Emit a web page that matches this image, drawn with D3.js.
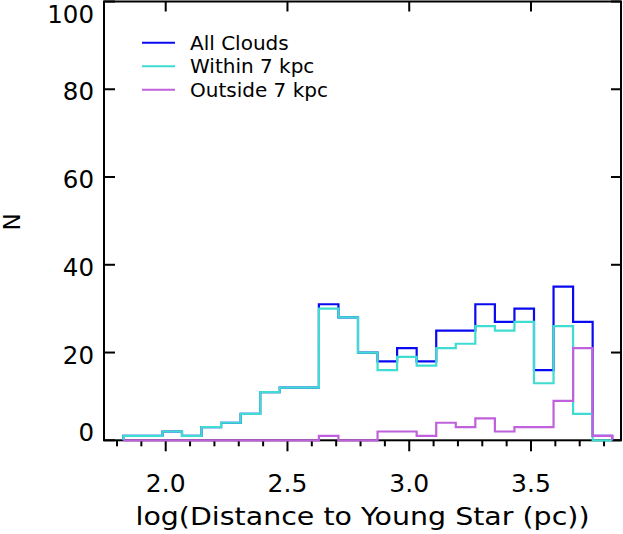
<!DOCTYPE html>
<html>
<head>
<meta charset="utf-8">
<script src="https://cdn.jsdelivr.net/npm/d3@7"></script>
<style>
  html, body { margin: 0; padding: 0; background: #fff; }
  svg { display: block; font-family: "DejaVu Sans", sans-serif; }
</style>
</head>
<body>
<svg id="chart" width="623" height="534"></svg>
<script>
// histogram bins in log(distance / pc)
const binStart = 1.826;
const binWidth = 0.0803;
const allClouds = [1, 1, 2, 1, 3, 4, 6, 11, 12, 12, 31, 28, 20, 18, 21, 18, 25, 25, 31, 27, 30, 16, 35, 27, 1];
const within7 = [1, 1, 2, 1, 3, 4, 6, 11, 12, 12, 30, 28, 20, 16, 19, 17, 21, 22, 26, 25, 27, 13, 26, 6, 0];
const outside7 = [0, 0, 0, 0, 0, 0, 0, 0, 0, 0, 1, 0, 0, 2, 2, 1, 4, 3, 5, 2, 3, 3, 9, 21, 1];

const xMajor = [2.0, 2.5, 3.0, 3.5];
const xMinor = [1.8, 1.9, 2.1, 2.2, 2.3, 2.4, 2.6, 2.7, 2.8, 2.9, 3.1, 3.2, 3.3, 3.4, 3.6, 3.7, 3.8];
const yTicks = [0, 20, 40, 60, 80, 100];

const series = [
  { name: "All Clouds", values: allClouds, color: "#0a0af0" },
  { name: "Within 7 kpc", values: within7, color: "#3fdcd2" },
  { name: "Outside 7 kpc", values: outside7, color: "#c060dc" }
];

const margin = { left: 104, right: 2, top: 1.5, bottom: 94 };
const width = 623, height = 534;
const svg = d3.select("#chart");

const x = d3.scaleLinear().domain([1.7466, 3.8696]).range([margin.left, width - margin.right]);
const y = d3.scaleLinear().domain([0, 100]).range([height - margin.bottom + 0.3, margin.top]);

const x0 = x.range()[0], x1 = x.range()[1];
const yb = y(0), yt = y(100);

// frame
svg.append("rect")
  .attr("x", x0).attr("y", yt).attr("width", x1 - x0).attr("height", yb - yt)
  .attr("fill", "none").attr("stroke", "#000").attr("stroke-width", 2);

// bottom ticks (outward)
svg.append("g").selectAll("line").data(xMajor).join("line")
  .attr("x1", d => x(d)).attr("x2", d => x(d)).attr("y1", yb).attr("y2", yb + 11)
  .attr("stroke", "#000").attr("stroke-width", 2);
svg.append("g").selectAll("line").data(xMinor).join("line")
  .attr("x1", d => x(d)).attr("x2", d => x(d)).attr("y1", yb).attr("y2", yb + 6)
  .attr("stroke", "#000").attr("stroke-width", 2);
// top ticks (inward)
svg.append("g").selectAll("line").data(xMajor).join("line")
  .attr("x1", d => x(d)).attr("x2", d => x(d)).attr("y1", yt).attr("y2", yt + 10)
  .attr("stroke", "#000").attr("stroke-width", 2);
// left and right ticks (inward)
svg.append("g").selectAll("line").data(yTicks).join("line")
  .attr("x1", x0).attr("x2", x0 + 11).attr("y1", d => y(d)).attr("y2", d => y(d))
  .attr("stroke", "#000").attr("stroke-width", 2);
svg.append("g").selectAll("line").data(yTicks).join("line")
  .attr("x1", x1 - 10).attr("x2", x1).attr("y1", d => y(d)).attr("y2", d => y(d))
  .attr("stroke", "#000").attr("stroke-width", 2);

// tick labels
svg.append("g").selectAll("text").data(xMajor).join("text")
  .attr("x", d => x(d)).attr("y", 492)
  .attr("text-anchor", "middle").attr("font-size", 25)
  .text(d => d.toFixed(1));
svg.append("g").selectAll("text").data(yTicks).join("text")
  .attr("x", 94).attr("y", d => Math.min(441, Math.max(23, y(d) + 11)))
  .attr("text-anchor", "end").attr("font-size", 24.5)
  .text(d => d);

// axis titles
svg.append("text")
  .attr("x", (x0 + x1) / 2).attr("y", 525)
  .attr("text-anchor", "middle").attr("font-size", 25)
  .attr("textLength", 454).attr("lengthAdjust", "spacingAndGlyphs")
  .text("log(Distance to Young Star (pc))");
svg.append("text")
  .attr("transform", `translate(19.5,${(yt + yb) / 2 + 1}) rotate(-90)`)
  .attr("text-anchor", "middle").attr("font-size", 23)
  .text("N");

// histogram steps
function stepPath(values) {
  const pts = [[x(binStart), yb]];
  values.forEach((v, i) => {
    pts.push([x(binStart + i * binWidth), y(v)]);
    pts.push([x(binStart + (i + 1) * binWidth), y(v)]);
  });
  pts.push([x(binStart + values.length * binWidth), yb]);
  return d3.line()(pts);
}

svg.append("g").selectAll("path").data(series).join("path")
  .attr("d", d => stepPath(d.values))
  .attr("fill", "none").attr("stroke", d => d.color).attr("stroke-width", 2.2)
  .attr("stroke-linejoin", "miter");

// legend
const legend = svg.append("g").selectAll("g").data(series).join("g")
  .attr("transform", (d, i) => `translate(0,${42.7 + i * 23.5})`);
legend.append("line")
  .attr("x1", 142).attr("x2", 175).attr("y1", 0).attr("y2", 0)
  .attr("stroke", d => d.color).attr("stroke-width", 2);
legend.append("text")
  .attr("x", 190).attr("y", 6.8).attr("font-size", 20)
  .text(d => d.name);
</script>
</body>
</html>
